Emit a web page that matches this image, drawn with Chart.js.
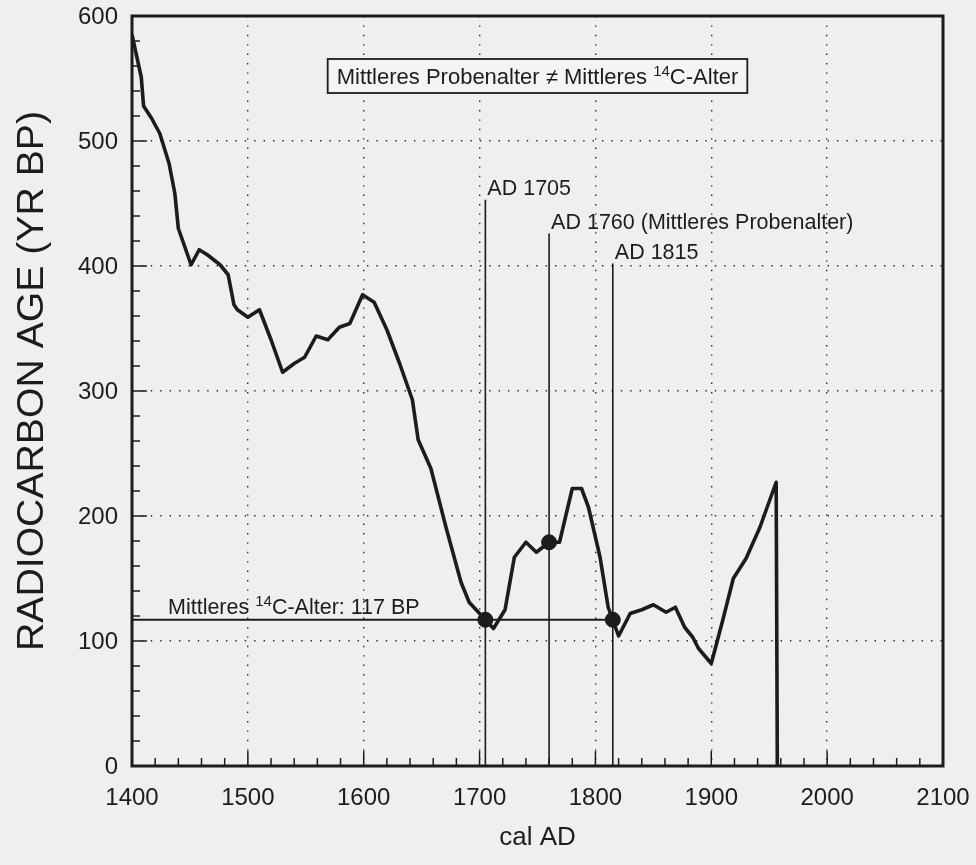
<!DOCTYPE html>
<html>
<head>
<meta charset="utf-8">
<script src="https://cdn.jsdelivr.net/npm/chart.js@4.4.1/dist/chart.umd.min.js"></script>
<style>
  html, body { margin: 0; padding: 0; background: #efefef; }
  canvas { display: block; }
</style>
</head>
<body>
<canvas id="chart" width="976" height="865"></canvas>
<script>
// --- Data ---
const calYears = [1400, 1408, 1410, 1417, 1424, 1432, 1437, 1440, 1451, 1458, 1465, 1476, 1483, 1488, 1491, 1500,
                  1510, 1520, 1530, 1540, 1549, 1559, 1569, 1579, 1588, 1599, 1609, 1620, 1631, 1642, 1647, 1658,
                  1671, 1684, 1691, 1700, 1712, 1722, 1730, 1740, 1749, 1760, 1769, 1780, 1788, 1794, 1804, 1811,
                  1820, 1830, 1840, 1850, 1861, 1869, 1877, 1884, 1889, 1900, 1910, 1919, 1930, 1942, 1956, 1957];
const c14Ages  = [585, 551, 528, 518, 506, 482, 458, 430, 401, 413, 409, 401, 393, 369, 365, 359,
                  365, 341, 315, 322, 327, 344, 341, 351, 354, 377, 371, 349, 322, 293, 261, 238,
                  191, 147, 131, 122, 110, 125, 167, 179, 171, 179, 179, 222, 222, 207, 167, 127,
                  104, 122, 125, 129, 123, 127, 111, 103, 94, 82, 117, 150, 166, 191, 227, 0];

const markerYears = [1705, 1760, 1815];
const markerAges = [117, 179, 117];
const markerTops = [453, 426, 402];
const markerLabels = ['AD 1705', 'AD 1760 (Mittleres Probenalter)', 'AD 1815'];
const meanAge = 117;

const xTicks = [1400, 1500, 1600, 1700, 1800, 1900, 2000, 2100];
const yTicks = [0, 100, 200, 300, 400, 500, 600];

const INK = '#1c1c1c';
const FONT = '"Liberation Sans", Arial, Helvetica, sans-serif';

// --- Datasets ---
const curve = calYears.map((x, i) => ({ x, y: c14Ages[i] }));
const datasets = [{
    data: curve, borderColor: INK, borderWidth: 3.6, pointRadius: 0,
    borderJoinStyle: 'round', tension: 0, order: 1
}];
markerYears.forEach((yr, i) => {
    datasets.push({
        data: [{ x: yr, y: 0 }, { x: yr, y: markerTops[i] }],
        borderColor: INK, borderWidth: 1.6, pointRadius: 0, order: 3
    });
});
datasets.push({
    data: [{ x: 1400, y: meanAge }, { x: markerYears[2], y: meanAge }],
    borderColor: INK, borderWidth: 1.8, pointRadius: 0, order: 3
});
datasets.push({
    data: markerYears.map((x, i) => ({ x, y: markerAges[i] })),
    showLine: false, pointRadius: 7.5, pointBackgroundColor: INK, pointBorderColor: INK, order: 0
});

// --- Helpers ---
function drawRich(ctx, parts, x, y, size) {
    let cx = x;
    parts.forEach(p => {
        ctx.font = (p.sup ? Math.round(size * 0.68) : size) + 'px ' + FONT;
        ctx.fillText(p.t, cx, p.sup ? y - size * 0.38 : y);
        cx += ctx.measureText(p.t).width;
    });
    return cx - x;
}
function richWidth(ctx, parts, size) {
    let w = 0;
    parts.forEach(p => {
        ctx.font = (p.sup ? Math.round(size * 0.68) : size) + 'px ' + FONT;
        w += ctx.measureText(p.t).width;
    });
    return w;
}

const edgeFree = (edges) => (c) => (edges.includes(c.tick.value) ? 'rgba(0,0,0,0)' : '#2a2a2a');

// --- Plugin: background, frame, inward ticks, labels ---
const decor = {
    id: 'decor',
    beforeDraw(chart) {
        const ctx = chart.ctx;
        ctx.save();
        ctx.fillStyle = '#efefef';
        ctx.fillRect(0, 0, chart.width, chart.height);
        ctx.restore();
    },
    afterDraw(chart) {
        const { ctx, chartArea: a, scales: { x, y } } = chart;
        ctx.save();
        ctx.strokeStyle = INK;
        ctx.fillStyle = INK;

        // inward ticks on left and bottom
        ctx.lineWidth = 1.5;
        for (let v = 0; v <= 600; v += 20) {
            const py = y.getPixelForValue(v);
            const len = v % 100 === 0 ? 15 : 8;
            ctx.beginPath(); ctx.moveTo(a.left, py); ctx.lineTo(a.left + len, py); ctx.stroke();
        }
        for (let v = 1400; v <= 2100; v += 20) {
            const px = x.getPixelForValue(v);
            const len = v % 100 === 0 ? 15 : 8;
            ctx.beginPath(); ctx.moveTo(px, a.bottom); ctx.lineTo(px, a.bottom - len); ctx.stroke();
        }

        // frame
        ctx.lineWidth = 3;
        ctx.strokeRect(a.left, a.top, a.right - a.left, a.bottom - a.top);

        // tick labels
        ctx.font = '24px ' + FONT;
        ctx.textAlign = 'right';
        ctx.textBaseline = 'middle';
        yTicks.forEach(v => ctx.fillText(String(v), a.left - 14, y.getPixelForValue(v) + 1));
        ctx.textAlign = 'center';
        ctx.textBaseline = 'top';
        xTicks.forEach(v => ctx.fillText(String(v), x.getPixelForValue(v), a.bottom + 20));

        // marker labels
        ctx.textBaseline = 'alphabetic';
        ctx.textAlign = 'left';
        ctx.font = '21.5px ' + FONT;
        markerYears.forEach((yr, i) => {
            const px = x.getPixelForValue(yr) + 2;
            const py = y.getPixelForValue(markerTops[i]) - 5;
            ctx.fillText(markerLabels[i], px, py);
        });

        // mean 14C age label
        const meanParts = [{ t: 'Mittleres ' }, { t: '14', sup: true }, { t: 'C-Alter: ' + meanAge + ' BP' }];
        drawRich(ctx, meanParts, a.left + 36, y.getPixelForValue(meanAge) - 6, 21.5);

        // boxed statement
        const boxParts = [{ t: 'Mittleres Probenalter \u2260 Mittleres ' }, { t: '14', sup: true }, { t: 'C-Alter' }];
        const w = richWidth(ctx, boxParts, 22);
        const cx = x.getPixelForValue(1750);
        const tx = cx - w / 2;
        const by = 84;
        ctx.fillStyle = '#f4f4f4';
        ctx.fillRect(tx - 9, 59, w + 18, 34);
        ctx.fillStyle = INK;
        ctx.lineWidth = 1.8;
        ctx.strokeRect(tx - 9, 59, w + 18, 34);
        drawRich(ctx, boxParts, tx, by, 22);

        // y axis title (rotated, fitted to its length)
        const title = 'RADIOCARBON AGE (YR BP)';
        ctx.font = '37px ' + FONT;
        const tw = ctx.measureText(title).width;
        ctx.translate(33, (a.top + a.bottom) / 2 - 10);
        ctx.rotate(-Math.PI / 2);
        ctx.scale(540 / tw, 1);
        ctx.textAlign = 'center';
        ctx.textBaseline = 'middle';
        ctx.fillText(title, 0, 0);
        ctx.restore();
    }
};

new Chart(document.getElementById('chart'), {
    type: 'line',
    data: { datasets },
    plugins: [decor],
    options: {
        responsive: false,
        devicePixelRatio: 1,
        animation: false,
        layout: { padding: { top: 16, right: 33, left: 0, bottom: 0 } },
        plugins: { legend: { display: false }, tooltip: { enabled: false } },
        scales: {
            x: {
                type: 'linear', min: 1400, max: 2100,
                afterBuildTicks: (s) => { s.ticks = xTicks.map(v => ({ value: v })); },
                afterFit: (s) => { s.height = 99; },
                ticks: { display: false },
                grid: { color: edgeFree([1400, 2100]), lineWidth: 1.4, drawTicks: false },
                border: { display: false, dash: [1.4, 8] },
                title: { display: true, text: 'cal AD', color: INK, font: { family: FONT, size: 26 },
                         padding: { top: 0, bottom: 12 } }
            },
            y: {
                type: 'linear', min: 0, max: 600,
                afterBuildTicks: (s) => { s.ticks = yTicks.map(v => ({ value: v })); },
                afterFit: (s) => { s.width = 132; },
                ticks: { display: false },
                grid: { color: edgeFree([0, 600]), lineWidth: 1.4, drawTicks: false },
                border: { display: false, dash: [1.4, 8] }
            }
        }
    }
});
</script>
</body>
</html>
